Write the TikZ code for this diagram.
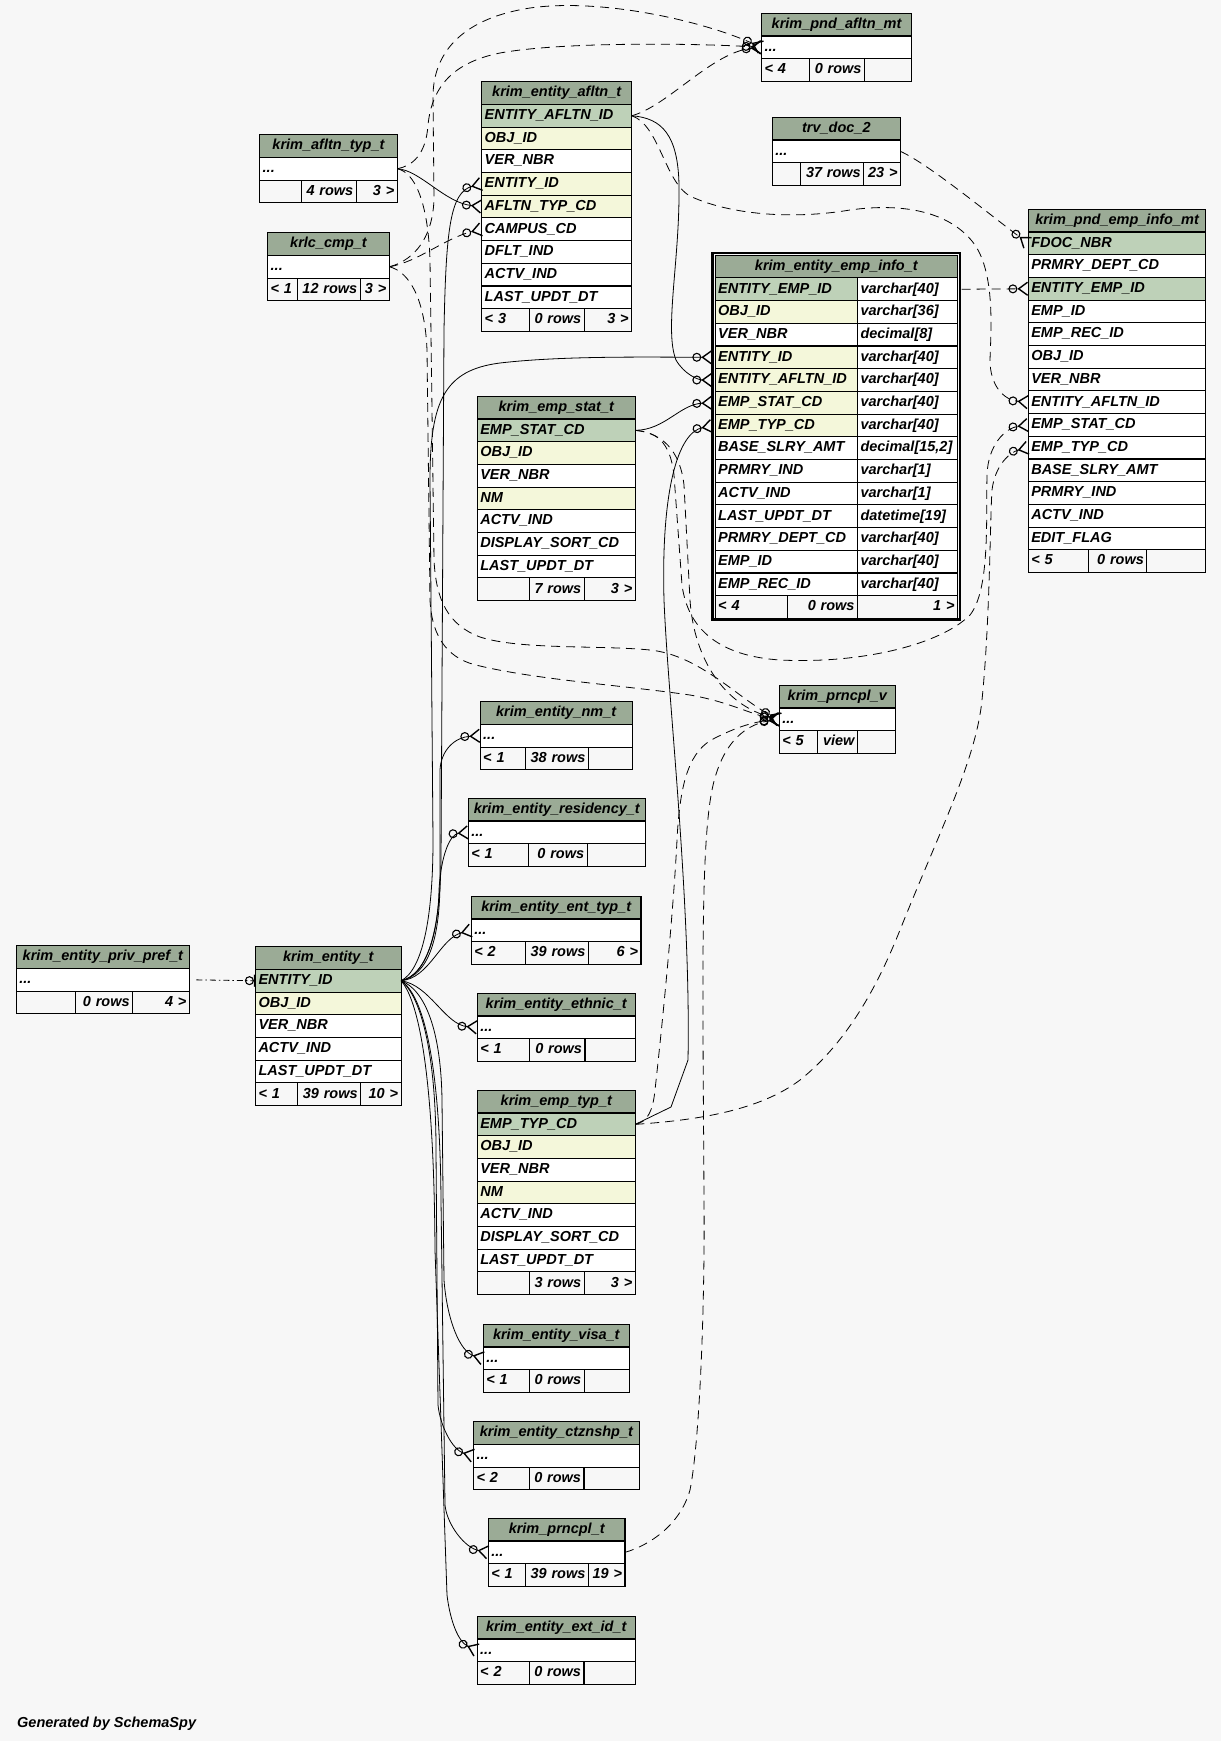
\documentclass[tikz,border=0pt]{standalone}
\usepackage{fontspec}
\setmainfont{Liberation Sans}
\usepackage{tikz}
\usetikzlibrary{arrows.meta}
\definecolor{headgreen}{HTML}{9BAB96}
\definecolor{pkgreen}{HTML}{BED1B8}
\definecolor{ixyellow}{HTML}{F4F7DA}
\definecolor{bgcol}{HTML}{F7F7F7}
\newcommand{\tfont}{\fontsize{14.5}{16}\selectfont\bfseries\itshape}
\newcommand{\morecols}{...}
% table: name, left, top, right, title, rows (text/kind)
\newcommand{\dbtable}[6]{%
  \pgfmathsetmacro{\tw}{#4-#2-6}%
  \node[thead, text width=\tw pt] (#1) at (#2,#3) {#5};
  \foreach \txt/\kind [count=\i] in {#6}
    \node[\kind, text width=\tw pt] (#1-\i) at (#2,#3+\i*22.7) {\txt};
}
% footer: name, left, top, sep1, sep2, right, three texts
\newcommand{\dbfoot}[9]{%
  \pgfmathsetmacro{\wa}{#4-#2-6}\pgfmathsetmacro{\wb}{#5-#4-6}\pgfmathsetmacro{\wc}{#6-#5-6}%
  \node[tfoot, text width=\wa pt, align=left] (#1-fa) at (#2,#3) {#7};
  \node[tfoot, text width=\wb pt, align=right] (#1-fb) at (#4,#3) {#8};
  \node[tfoot, text width=\wc pt, align=right] (#1-fc) at (#5,#3) {#9};
}

\begin{document}
\begin{tikzpicture}[x=1pt, y=-1pt,
  tbl/.style={draw, line width=1.1pt, outer sep=0pt, anchor=north west, minimum height=22.7pt,
    inner xsep=3pt, inner ysep=0pt, text height=11pt, text depth=3.5pt, font=\tfont},
  thead/.style={tbl, fill=headgreen, align=center},
  pk/.style={tbl, fill=pkgreen, align=left},
  ix/.style={tbl, fill=ixyellow, align=left},
  col/.style={tbl, fill=white, align=left},
  tfoot/.style={tbl},
  fk/.style={line width=0.8pt, -{Circle[open, length=9pt, width=9pt, line width=1.1pt] Straight Barb[reversed, length=9pt, width=13pt, line width=1.4pt]}},
  impl/.style={fk, dash pattern=on 9pt off 6pt},
  onefk/.style={line width=0.8pt, dash pattern=on 6pt off 3pt on 1.5pt off 3pt, -{Circle[open, length=9pt, width=9pt, line width=1.1pt] Bar[width=12pt, line width=1.6pt]}}]
\useasboundingbox (0,0) rectangle (1221,1741);
\fill[bgcol] (0,0) rectangle (1221,1741);

\dbtable{pam}{761.5}{13.3}{911.6}{krim\_pnd\_afltn\_mt}{\morecols/col}
\dbfoot{pam}{761.5}{58.7}{809.3}{864.5}{911.6}{< 4}{0 rows}{}

\dbtable{trv}{772.3}{117.3}{900.5}{trv\_doc\_2}{\morecols/col}
\dbfoot{trv}{772.3}{162.7}{800.4}{863.8}{900.5}{}{37 rows}{23 >}

\dbtable{pei}{1028.3}{209.3}{1205.8}{krim\_pnd\_emp\_info\_mt}{FDOC\_NBR/pk, PRMRY\_DEPT\_CD/col, ENTITY\_EMP\_ID/pk, EMP\_ID/col, EMP\_REC\_ID/col, OBJ\_ID/col, VER\_NBR/col, ENTITY\_AFLTN\_ID/col, EMP\_STAT\_CD/col, EMP\_TYP\_CD/col, BASE\_SLRY\_AMT/col, PRMRY\_IND/col, ACTV\_IND/col, EDIT\_FLAG/col}
\dbfoot{pei}{1028.3}{549.8}{1088.3}{1146.9}{1205.8}{< 5}{0 rows}{}

\node[thead, text width=236.3pt] (eei) at (715.2,255.2) {krim\_entity\_emp\_info\_t};
\foreach \txt/\typ/\kind [count=\i] in {ENTITY\_EMP\_ID/varchar[40]/pk, OBJ\_ID/varchar[36]/ix, VER\_NBR/decimal[8]/col, ENTITY\_ID/varchar[40]/ix, ENTITY\_AFLTN\_ID/varchar[40]/ix, EMP\_STAT\_CD/varchar[40]/ix, EMP\_TYP\_CD/varchar[40]/ix, BASE\_SLRY\_AMT/{decimal[15,2]}/col, PRMRY\_IND/varchar[1]/col, ACTV\_IND/varchar[1]/col, LAST\_UPDT\_DT/datetime[19]/col, PRMRY\_DEPT\_CD/varchar[40]/col, EMP\_ID/varchar[40]/col, EMP\_REC\_ID/varchar[40]/col} {
  \node[\kind, text width=136.3pt] (eei-\i) at (715.2,255.2+\i*22.7) {\txt};
  \node[col, text width=94pt] (eeit-\i) at (857.5,255.2+\i*22.7) {\typ};
}
\dbfoot{eei}{715.2}{595.7}{787.5}{857.5}{957.5}{< 4}{0 rows}{1 >}
\draw[line width=2.6pt] (712.7,252.9) rectangle (959.8,619.3);

\dbtable{afl}{481.7}{81.7}{631.7}{krim\_entity\_afltn\_t}{ENTITY\_AFLTN\_ID/pk, OBJ\_ID/ix, VER\_NBR/col, ENTITY\_ID/ix, AFLTN\_TYP\_CD/ix, CAMPUS\_CD/col, DFLT\_IND/col, ACTV\_IND/col, LAST\_UPDT\_DT/col}
\dbfoot{afl}{481.7}{308.7}{529.3}{584.3}{631.7}{< 3}{0 rows}{3 >}

\dbtable{aty}{259.7}{134.7}{397.3}{krim\_afltn\_typ\_t}{\morecols/col}
\dbfoot{aty}{259.7}{180.1}{301.3}{356.3}{397.3}{}{4 rows}{3 >}

\dbtable{cmp}{267.7}{232.7}{389.3}{krlc\_cmp\_t}{\morecols/col}
\dbfoot{cmp}{267.7}{278.1}{297.7}{360.3}{389.3}{< 1}{12 rows}{3 >}

\dbtable{est}{477.3}{396.3}{635.3}{krim\_emp\_stat\_t}{EMP\_STAT\_CD/pk, OBJ\_ID/ix, VER\_NBR/col, NM/ix, ACTV\_IND/col, DISPLAY\_SORT\_CD/col, LAST\_UPDT\_DT/col}
\dbfoot{est}{477.3}{577.9}{529.3}{584.3}{635.3}{}{7 rows}{3 >}

\dbtable{prv}{779.3}{685.3}{895.3}{krim\_prncpl\_v}{\morecols/col}
\dbfoot{prv}{779.3}{730.7}{817.5}{857.5}{895.3}{< 5}{view}{}

\dbtable{enm}{480.2}{701.7}{632.2}{krim\_entity\_nm\_t}{\morecols/col}
\dbfoot{enm}{480.2}{747.1}{525.3}{588.4}{632.2}{< 1}{38 rows}{}

\dbtable{ers}{468.4}{798.3}{645.2}{krim\_entity\_residency\_t}{\morecols/col}
\dbfoot{ers}{468.4}{843.7}{528.2}{587.1}{645.2}{< 1}{0 rows}{}

\dbtable{ety}{471.4}{896.3}{641}{krim\_entity\_ent\_typ\_t}{\morecols/col}
\dbfoot{ety}{471.4}{941.7}{525.3}{588.4}{641}{< 2}{39 rows}{6 >}

\dbtable{eth}{477.3}{993.3}{635.1}{krim\_entity\_ethnic\_t}{\morecols/col}
\dbfoot{eth}{477.3}{1038.7}{529.5}{585}{635.1}{< 1}{0 rows}{}

\dbtable{epp}{16.4}{945.7}{189.4}{krim\_entity\_priv\_pref\_t}{\morecols/col}
\dbfoot{epp}{16.4}{991.1}{75.8}{132.6}{189.4}{}{0 rows}{4 >}

\dbtable{ent}{255.5}{946.7}{401.1}{krim\_entity\_t}{ENTITY\_ID/pk, OBJ\_ID/ix, VER\_NBR/col, ACTV\_IND/col, LAST\_UPDT\_DT/col}
\dbfoot{ent}{255.5}{1082.9}{297.6}{360.7}{401.1}{< 1}{39 rows}{10 >}

\dbtable{etp}{477.3}{1090.3}{635.3}{krim\_emp\_typ\_t}{EMP\_TYP\_CD/pk, OBJ\_ID/ix, VER\_NBR/col, NM/ix, ACTV\_IND/col, DISPLAY\_SORT\_CD/col, LAST\_UPDT\_DT/col}
\dbfoot{etp}{477.3}{1271.9}{529.3}{584.3}{635.3}{}{3 rows}{3 >}

\dbtable{evs}{483.3}{1324.3}{629.3}{krim\_entity\_visa\_t}{\morecols/col}
\dbfoot{evs}{483.3}{1369.7}{529.3}{584.3}{629.3}{< 1}{0 rows}{}

\dbtable{ecz}{473.5}{1421.7}{639.3}{krim\_entity\_ctznshp\_t}{\morecols/col}
\dbfoot{ecz}{473.5}{1467.1}{529.5}{584}{639.3}{< 2}{0 rows}{}

\dbtable{prt}{488.4}{1518.3}{625}{krim\_prncpl\_t}{\morecols/col}
\dbfoot{prt}{488.4}{1563.7}{525.4}{588.4}{625}{< 1}{39 rows}{19 >}

\dbtable{eid}{477.2}{1616.3}{635.3}{krim\_entity\_ext\_id\_t}{\morecols/col}
\dbfoot{eid}{477.2}{1661.7}{529.5}{584}{635.3}{< 2}{0 rows}{}

\node[anchor=base west, font=\tfont, inner sep=0pt] (gen) at (17,1727) {Generated by SchemaSpy};

% real keys
\draw[fk] (aty-1.east) .. controls (420,170) and (445,203) .. (afl-5.west);
\draw[fk] (ent-1.east) .. controls (428,975) and (440,930) .. (441,860) -- (444,330) .. controls (446,230) and (450,192) .. (afl-4.west);
\draw[fk, shorten >=3pt] (ent-1.east) .. controls (422,970) and (433,920) .. (433,840) -- (430,480) .. controls (430,400) and (445,370) .. (500,363) .. controls (560,356) and (640,357) .. (eei-4.west);
\draw[fk, shorten >=3pt] (afl-1.east) .. controls (662,118) and (678,135) .. (679,185) .. controls (680,260) and (664,330) .. (676,360) .. controls (684,374) and (698,380) .. (eei-5.west);
\draw[fk, shorten >=3pt] (est-1.east) .. controls (665,430) and (680,404) .. (eei-6.west);
\draw[fk, shorten >=3pt] (etp-1.east) -- (671,1107) -- (688,1060) .. controls (691,900) and (668,700) .. (664,600) .. controls (661,490) and (678,432) .. (eei-7.west);
\draw[fk] (ent-1.east) .. controls (428,975) and (440,940) .. (440,880) -- (440,770) .. controls (441,750) and (455,737) .. (enm-1.west);
\draw[fk] (ent-1.east) .. controls (426,975) and (438,935) .. (439,890) .. controls (441,855) and (450,834) .. (ers-1.west);
\draw[fk] (ent-1.east) .. controls (430,978) and (440,938) .. (ety-1.west);
\draw[fk] (ent-1.east) .. controls (430,985) and (445,1025) .. (eth-1.west);
\draw[fk] (ent-1.east) .. controls (425,990) and (441,1030) .. (442,1100) -- (444,1280) .. controls (447,1320) and (460,1352) .. (evs-1.west);
\draw[fk] (ent-1.east) .. controls (420,995) and (436,1050) .. (436,1150) -- (438,1405) .. controls (440,1425) and (452,1450) .. (ecz-1.west);
\draw[fk] (ent-1.east) .. controls (423,995) and (440,1060) .. (441,1200) -- (445,1505) .. controls (447,1525) and (465,1548) .. (prt-1.west);
\draw[fk] (ent-1.east) .. controls (418,1000) and (434,1070) .. (435,1250) -- (447,1595) .. controls (450,1620) and (458,1642) .. (eid-1.west);

% implied keys
\draw[onefk, shorten <=7pt] (epp-1.east) -- (ent-1.west);
\draw[impl] (afl-1.east) .. controls (668,106) and (712,52) .. (pam-1.west);
\draw[impl] (afl-1.east) .. controls (660,125) and (665,185) .. (692,197) .. controls (730,214) and (790,220) .. (850,210) .. controls (900,203) and (950,210) .. (975,245) .. controls (995,275) and (991,330) .. (990,360) .. controls (990,385) and (1003,400) .. (pei-8.west);
\draw[impl] (trv-1.east) .. controls (930,165) and (990,215) .. (pei-1.west);
\draw[impl, shorten <=4pt] (eeit-1.east) -- (pei-3.west);
\draw[impl] (est-1.east) .. controls (655,432) and (670,440) .. (674,475) -- (682,585) .. controls (688,630) and (720,656) .. (780,660) .. controls (860,664) and (940,645) .. (970,615) .. controls (990,590) and (986,520) .. (987,475) .. controls (988,445) and (1005,428) .. (pei-9.west);
\draw[impl] (etp-1.east) .. controls (700,1120) and (760,1110) .. (800,1080) .. controls (850,1040) and (880,980) .. (900,930) .. controls (940,830) and (976,760) .. (982,700) .. controls (990,620) and (990,520) .. (992,490) .. controls (995,465) and (1010,452) .. (pei-10.west);
\draw[impl] (aty-1.east) .. controls (414,172) and (428,200) .. (430,260) -- (434,560) .. controls (436,600) and (448,625) .. (480,637) .. controls (520,650) and (600,645) .. (650,650) .. controls (700,655) and (740,700) .. (prv-1.west);
\draw[impl] (cmp-1.east) .. controls (410,272) and (425,300) .. (427,350) -- (430,600) .. controls (432,640) and (450,660) .. (480,666) .. controls (540,680) and (620,685) .. (690,695) .. controls (730,702) and (752,715) .. (prv-1.west);
\draw[impl] (est-1.east) .. controls (662,433) and (680,450) .. (684,485) -- (690,600) .. controls (694,660) and (725,705) .. (prv-1.west);
\draw[impl] (etp-1.east) .. controls (648,1122) and (653,1110) .. (655,1090) .. controls (665,1000) and (674,900) .. (677,840) .. controls (680,780) and (690,750) .. (715,738) .. controls (735,728) and (752,722) .. (prv-1.west);
\draw[impl] (prt-1.east) .. controls (650,1545) and (680,1525) .. (690,1490) .. controls (700,1440) and (705,1300) .. (704,1200) .. controls (703,1000) and (700,850) .. (712,790) .. controls (720,750) and (740,725) .. (prv-1.west);
\draw[impl] (aty-1.east) .. controls (412,166) and (426,155) .. (428,125) .. controls (432,85) and (455,62) .. (500,53) .. controls (560,42) and (690,43) .. (pam-1.west);
\draw[impl] (cmp-1.east) .. controls (408,262) and (432,245) .. (434,200) -- (433,95) .. controls (434,50) and (465,18) .. (530,8) .. controls (600,-2) and (700,20) .. (pam-1.west);
\draw[impl] (cmp-1.east) .. controls (418,262) and (445,238) .. (afl-6.west);
\end{tikzpicture}
\end{document}
